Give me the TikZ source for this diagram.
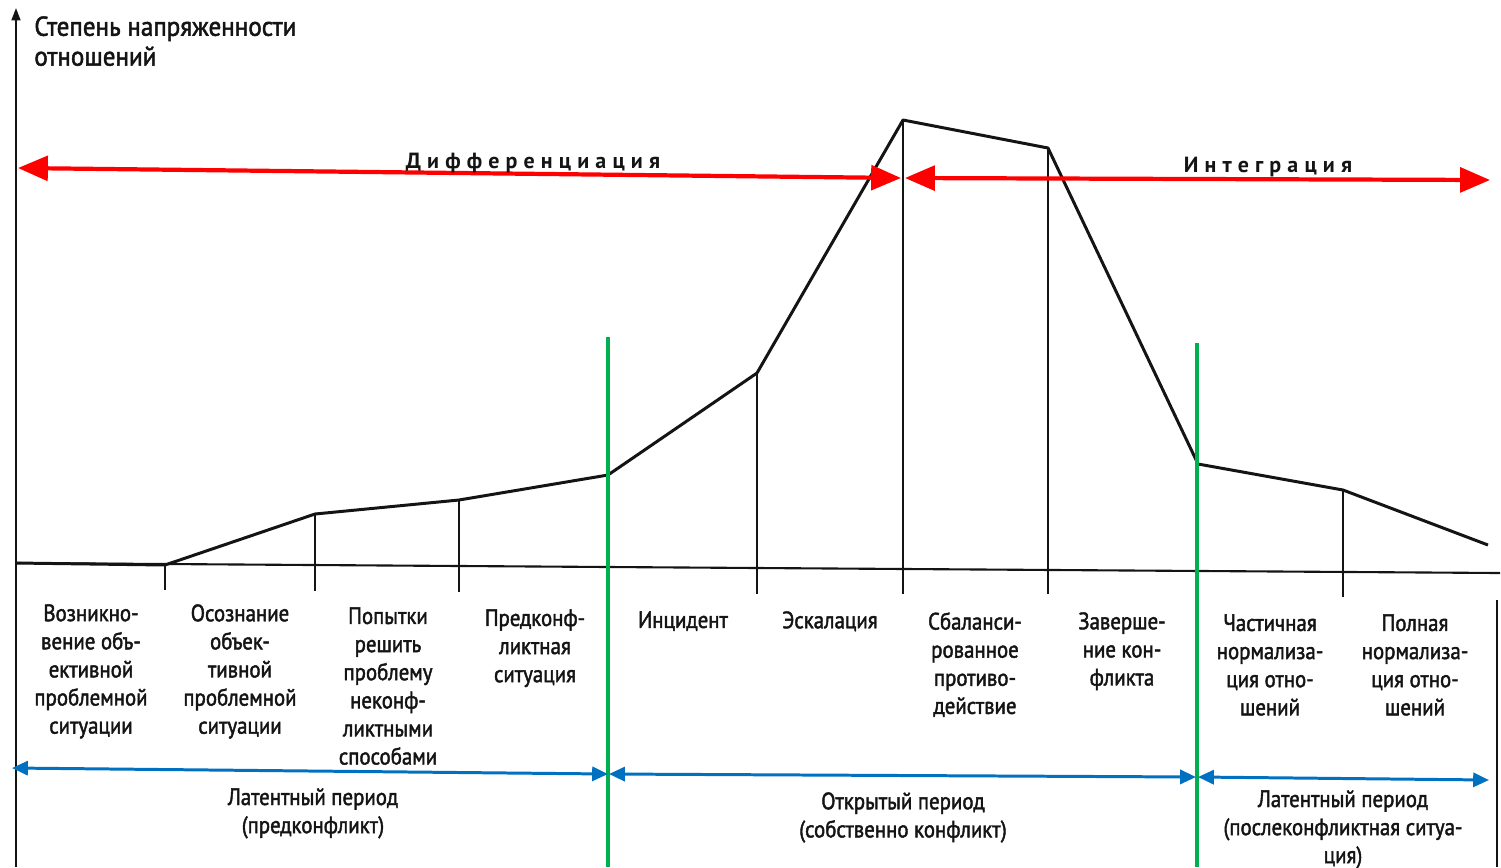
\documentclass[tikz,border=0pt]{standalone}
\usepackage{fontspec}
\setmainfont{PT Sans}
\newfontfamily\lblfont{PT Sans}[FakeStretch=0.88,FakeBold=1.8]
\newfontfamily\ttlfont{PT Sans}[FakeStretch=0.92,FakeBold=1.8]
\usetikzlibrary{arrows.meta}
\definecolor{redarr}{RGB}{255,0,0}
\definecolor{bluearr}{RGB}{0,112,192}
\definecolor{greenln}{RGB}{0,176,80}
\definecolor{ink}{RGB}{20,20,20}
\tikzset{
  lbl/.style={font=\lblfont\fontsize{13.5}{16}\selectfont, align=center, inner sep=0pt, anchor=north, text=ink},
  title/.style={font=\ttlfont\fontsize{15.5}{17}\selectfont, align=left, inner sep=0pt, anchor=north west, text=ink},
  spaced/.style={font=\fontsize{12.5}{14}\selectfont\bfseries\addfontfeature{LetterSpace=28}, inner sep=0pt, text=ink},
  curve/.style={draw=ink, line width=1.7pt, line join=round},
  drop/.style={draw=ink, line width=1.1pt},
  axis/.style={draw=ink, line width=1.2pt},
  redarrow/.style={draw=redarr, line width=2.4pt, {Triangle[length=17pt,width=14pt]}-{Triangle[length=17pt,width=14pt]}},
  bluearrow/.style={draw=bluearr, line width=1.7pt, {Triangle[length=9pt,width=8pt]}-{Triangle[length=9pt,width=8pt]}},
  greenline/.style={draw=greenln, line width=2.4pt}
}
\begin{document}
\begin{tikzpicture}[x=0.02cm, y=-0.02cm]
\useasboundingbox (0,0) rectangle (1501,867);
% axes
\coordinate (ybot) at (16,867);
\coordinate (ytop) at (16,8);
\draw[axis, -{Triangle[length=7pt,width=5pt]}] (ybot) -- (ytop);
\coordinate (b0) at (16,563);
\coordinate (b1) at (1500,573);
\draw[axis] (b0) -- (b1);
\coordinate (rb1) at (1497,600);
\coordinate (rb2) at (1497,867);
\draw[axis] (rb1) -- (rb2);
% curve points
\coordinate (p0) at (16,563);
\coordinate (p1) at (165,565);
\coordinate (p2) at (315,514);
\coordinate (p3) at (459,500);
\coordinate (p4) at (608,475);
\coordinate (p5) at (757,373);
\coordinate (p6) at (903,120);
\coordinate (p7) at (1048,148);
\coordinate (p8) at (1198,464);
\coordinate (p9) at (1343,490);
\coordinate (p10) at (1488,545);
\draw[curve] (p0) -- (p1) -- (p2) -- (p3) -- (p4) -- (p5) -- (p6) -- (p7) -- (p8) -- (p9) -- (p10);
% tick bottoms
\coordinate (t1) at (165,590);
\coordinate (t2) at (315,591);
\coordinate (t3) at (459,592);
\coordinate (t5) at (757,594);
\coordinate (t6) at (903,594);
\coordinate (t7) at (1048,594);
\coordinate (t9) at (1343,597);
\draw[drop] (p1) -- (t1);
\draw[drop] (p2) -- (t2);
\draw[drop] (p3) -- (t3);
\draw[drop] (p5) -- (t5);
\draw[drop] (p6) -- (t6);
\draw[drop] (p7) -- (t7);
\draw[drop] (p9) -- (t9);
% green lines
\coordinate (g1t) at (608,337);
\coordinate (g1b) at (608,867);
\coordinate (g2t) at (1197,343);
\coordinate (g2b) at (1197,867);
\draw[greenline] (g1t) -- (g1b);
\draw[greenline] (g2t) -- (g2b);
% red arrows
\coordinate (r1a) at (18,168);
\coordinate (r1b) at (901,178);
\coordinate (r2a) at (905,178);
\coordinate (r2b) at (1490,180);
\draw[redarrow] (r1a) -- (r1b);
\draw[redarrow] (r2a) -- (r2b);
\node[spaced, anchor=base] (dif) at (533,168) {Дифференциация};
\node[spaced, anchor=base] (integ) at (1268,172) {Интеграция};
% blue arrows
\coordinate (u1a) at (12,768);
\coordinate (u1b) at (608,774);
\coordinate (u2a) at (609,774);
\coordinate (u2b) at (1196,777);
\coordinate (u3a) at (1198,777);
\coordinate (u3b) at (1489,780);
\draw[bluearrow] (u1a) -- (u1b);
\draw[bluearrow] (u2a) -- (u2b);
\draw[bluearrow] (u3a) -- (u3b);
% title
\node[title] (ttl) at (34,16) {Степень напряженности\\отношений};
% stage labels
\node[lbl] (s1) at (91,604) {Возникно-\\вение объ-\\ективной\\проблемной\\ситуации};
\node[lbl] (s2) at (240,604) {Осознание\\объек-\\тивной\\проблемной\\ситуации};
\node[lbl] (s3) at (388,607) {Попытки\\решить\\проблему\\неконф-\\ликтными\\способами};
\node[lbl] (s4) at (535,609) {Предконф-\\ликтная\\ситуация};
\node[lbl] (s5) at (683,611) {Инцидент};
\node[lbl] (s6) at (830,611) {Эскалация};
\node[lbl] (s7) at (975,612) {Сбаланси-\\рованное\\противо-\\действие};
\node[lbl] (s8) at (1122,612) {Заверше-\\ние кон-\\фликта};
\node[lbl] (s9) at (1270,614) {Частичная\\нормализа-\\ция отно-\\шений};
\node[lbl] (s10) at (1415,614) {Полная\\нормализа-\\ция отно-\\шений};
% period labels
\node[lbl] (per1) at (313,788) {Латентный период\\(предконфликт)};
\node[lbl] (per2) at (903,792) {Открытый период\\(собственно конфликт)};
\node[lbl] (per3) at (1343,790) {Латентный период\\(послеконфликтная ситуа-\\ция)};
\end{tikzpicture}
\end{document}
